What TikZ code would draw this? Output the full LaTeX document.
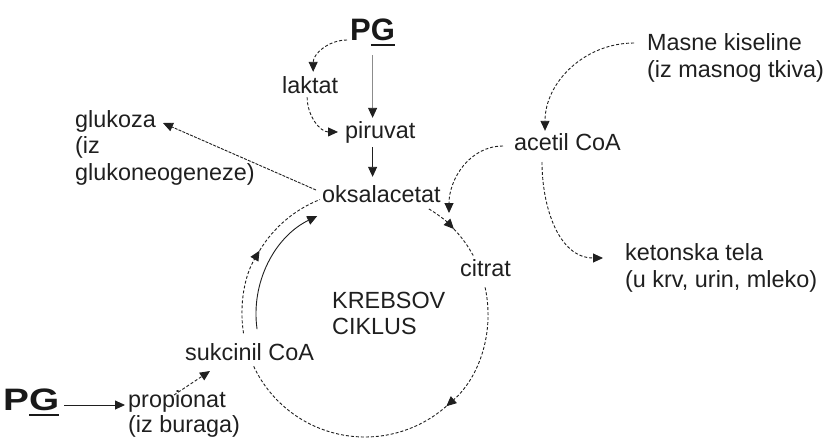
\documentclass[tikz,border=0pt]{standalone}
\usepackage{fontspec}
\setmainfont{Liberation Sans}
\usepackage{graphicx}
\usetikzlibrary{arrows.meta}
\newcommand{\mypg}{P\setbox0\hbox{G}\rlap{\rule[-6pt]{\wd0}{2pt}}G}
\begin{document}
\begin{tikzpicture}[x=1pt,y=1pt,
  txt/.style={inner sep=0pt, anchor=base west, text=black!88, font=\fontsize{23.4}{27}\selectfont, align=left},
  pgstyle/.style={inner sep=0pt, anchor=base west, text=black!90, font=\fontsize{31}{31}\selectfont\bfseries},
  tip/.style={-{Triangle[length=10pt,width=9pt]}},
  ln/.style={line width=0.9pt, draw=black!88},
  dsh/.style={ln, dash pattern=on 3pt off 2pt},
  fdsh/.style={ln, dash pattern=on 3pt off 1.2pt},
]
\useasboundingbox (0,0) rectangle (825,-445);

% texts (multi-line nodes are placed by the baseline of their last line)
\node[pgstyle] (pgtop) at (350,-40) {\mypg};
\node[pgstyle] (pgbot) at (3,-410) {\scalebox{1.25}[1]{\mypg}};
\node[txt] (laktat) at (282,-93) {laktat};
\node[txt] (piruvat) at (345,-138) {piruvat};
\node[txt] (oksal) at (322,-202) {oksalacetat};
\node[txt, font=\fontsize{23.4}{26.5}\selectfont] (gluk) at (75,-180) {glukoza\\(iz\\glukoneogeneze)};
\node[txt] (acetil) at (514,-150) {acetil CoA};
\node[txt] (masne) at (647,-77) {Masne kiseline\\(iz masnog tkiva)};
\node[txt] (keton) at (625,-287) {ketonska tela\\(u krv, urin, mleko)};
\node[txt] (citrat) at (460,-276) {citrat};
\node[txt, font=\fontsize{23.4}{25.5}\selectfont] (krebs) at (332,-334) {KREBSOV\\CIKLUS};
\node[txt] (sukc) at (185,-360) {sukcinil CoA};
\node[txt, font=\fontsize{23.4}{25}\selectfont] (prop) at (128,-432) {propionat\\(iz buraga)};

% Krebs cycle
\coordinate (kc) at (365,-314);
\coordinate (cin) at (449,-213);
\draw[dsh,tip] ([shift={(58.7:123)}]kc) arc[start angle=58.7,end angle=43.7,radius=123];
\draw[dsh] ([shift={(43.7:123)}]kc) arc[start angle=43.7,end angle=28.4,radius=123];
\draw[dsh,tip] ([shift={(12.5:123)}]kc) arc[start angle=12.5,end angle=-48.6,radius=123];
\draw[dsh] ([shift={(-48.6:123)}]kc) arc[start angle=-48.6,end angle=-155,radius=123];
\draw[dsh,tip] ([shift={(189:123)}]kc) arc[start angle=189,end angle=149,radius=123];
\draw[dsh] ([shift={(149:123)}]kc) arc[start angle=149,end angle=111.5,radius=123];
\draw[ln,tip] ([shift={(188:109)}]kc) arc[start angle=188,end angle=116,radius=109];

% connectors
\draw[dsh,tip] ([xshift=-3pt]pgtop.base west) to[out=180,in=90] ([xshift=3pt,yshift=4pt]laktat.north);
\draw[ln,draw=black!45,-{Triangle[length=10pt,width=9pt,color=black!88]}] ([yshift=-9pt]pgtop.south) -- ([yshift=3pt]pgtop.south |- piruvat.north);
\draw[dsh,tip] ([xshift=-3pt,yshift=-4pt]laktat.south) to[out=-90,in=180] ([xshift=-7pt]piruvat.west);
\draw[ln,tip] ([yshift=-4pt]pgtop.south |- piruvat.south) -- ([yshift=8pt]pgtop.south |- oksal.north);
\draw[fdsh,tip] ([xshift=-6pt,yshift=12pt]oksal.base west) -- ([xshift=88pt,yshift=57pt]gluk.base west);
\draw[dsh,tip] ([xshift=-13pt,yshift=34pt]masne.base west) to[out=180,in=90] ([xshift=31pt,yshift=2pt]acetil.north west);
\draw[dsh,tip] ([xshift=-11pt,yshift=4pt]acetil.base west) to[out=180,in=90] (cin);
\draw[dsh,tip] ([xshift=28pt,yshift=-12pt]acetil.base west) to[out=-90,in=180] ([xshift=-22pt,yshift=29pt]keton.base west);
\draw[ln,tip] ([xshift=5pt,yshift=5pt]pgbot.base east) -- ([xshift=-3pt,yshift=27pt]prop.base west);
\draw[dsh,tip] ([xshift=46pt,yshift=37pt]prop.base west) -- ([xshift=25pt,yshift=-11pt]sukc.base west);
\end{tikzpicture}
\end{document}
